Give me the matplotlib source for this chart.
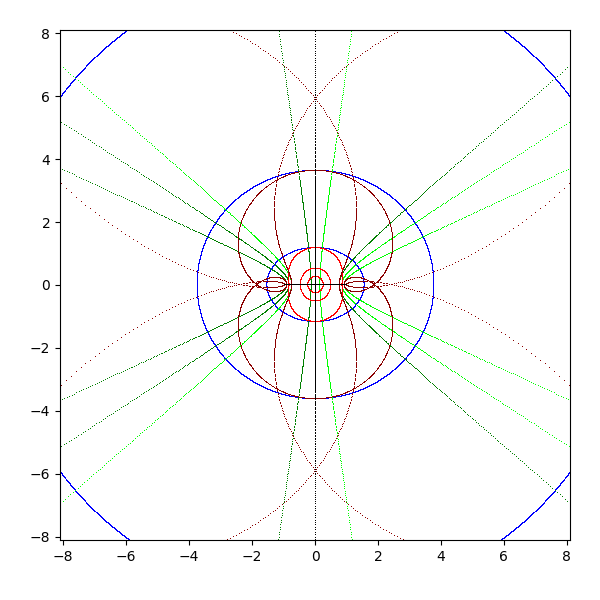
import numpy as np
import matplotlib
matplotlib.use("Agg")
import matplotlib.pyplot as plt

# Curves of the z-plane, drawn through the map w = sin(z)
vertical_lines_pos = [1, 2, 3, 4]          # Re z = c   (lime)
vertical_lines_neg = [-1, -2, -3, -4]      # Re z = c   (green)
horizontal_lines = [1, 2, 3]               # Im z = c   (blue ellipses)
circles_small = [0.25, 0.5, 1.0]           # |z| = r    (red)
circles_large = [2.0, 4.0, 8.0]            # |z| = r    (dark red)
ticks = [-8, -6, -4, -2, 0, 2, 4, 6, 8]

fig = plt.figure(figsize=(6, 6), dpi=100)
ax = fig.add_axes([0.1, 0.1, 0.85, 0.85])

s = np.linspace(-4, 4, 801)
s_dense = np.linspace(-4, 4, 40001)
theta = np.linspace(0, 2 * np.pi, 2001)
theta_dense = np.linspace(0, 2 * np.pi, 20001)

def draw(w, color, **kw):
    ax.plot(w.real, w.imag, ',', color=color, **kw)

for c in horizontal_lines:
    draw(np.sin(s_dense + 1j * c), 'blue')
for c in vertical_lines_neg:
    draw(np.sin(c + 1j * s), 'green')
for c in vertical_lines_pos:
    draw(np.sin(c + 1j * s), 'lime')
for r in circles_small:
    draw(np.sin(r * np.exp(1j * theta_dense)), 'red')
for r in circles_large:
    draw(np.sin(r * np.exp(1j * theta)), 'darkred')
draw(np.sin(s_dense + 0j), 'black')
draw(np.sin(1j * s), 'black')

ax.set_xlim(-8.1, 8.1)
ax.set_ylim(-8.1, 8.1)
ax.set_xticks(ticks)
ax.set_yticks(ticks)
fig.savefig('out.png', dpi=100)
